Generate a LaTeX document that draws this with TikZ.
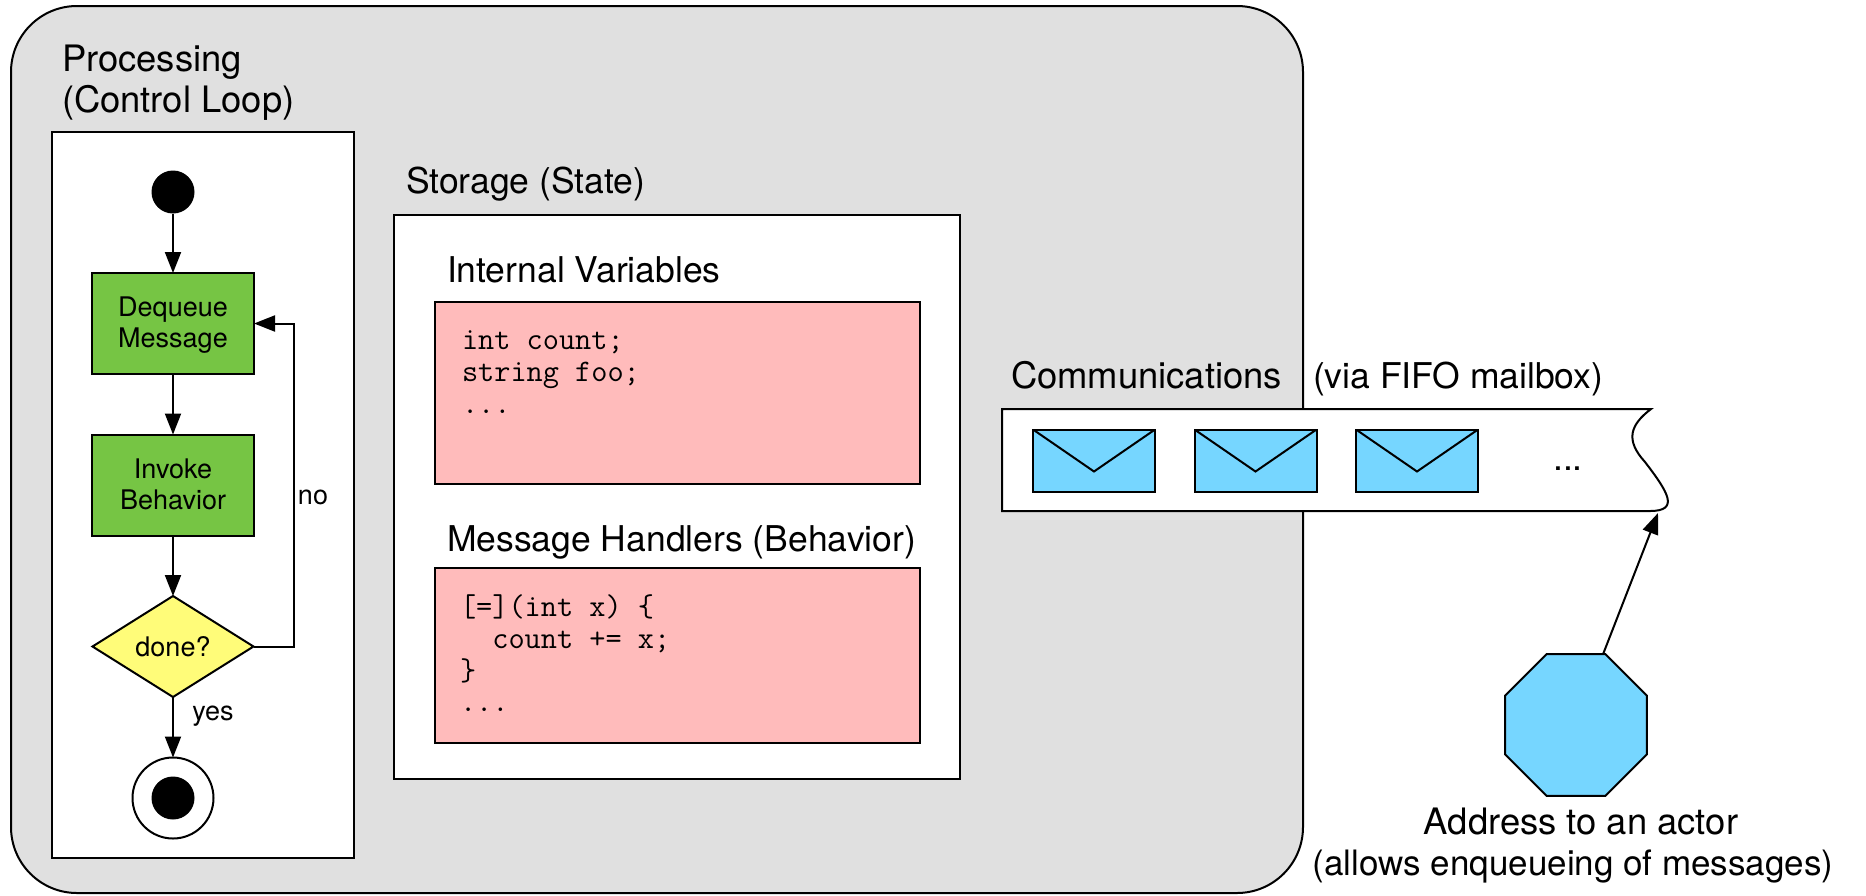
\documentclass[tikz,border=0pt]{standalone}
\usepackage{fontspec}
\setmainfont{TeX Gyre Heros}
\usetikzlibrary{shapes.geometric,arrows.meta}
\definecolor{panelgray}{HTML}{E0E0E0}
\definecolor{stepgreen}{HTML}{76C544}
\definecolor{banana}{HTML}{FFFC79}
\definecolor{codered}{HTML}{FFBBBB}
\definecolor{sky}{HTML}{76D6FF}
\newcommand{\stepstrut}{\rule[-5pt]{0pt}{28pt}}
\tikzset{
  x=1pt,y=-1pt,
  every node/.style={inner sep=0pt,outer sep=0pt},
  line/.style={line width=2pt,draw=black},
  box/.style={line,rectangle,anchor=north west},
  stepbox/.style={line,rectangle,fill=stepgreen,minimum width=162pt,minimum height=101pt,align=center,smalltext},
  codebox/.style={box,fill=codered,minimum width=485pt},
  envelope/.style={line,rectangle,fill=sky,minimum width=122pt,minimum height=62pt,
    path picture={\draw[line] (path picture bounding box.north west) -- ([yshift=-42pt]path picture bounding box.north) -- (path picture bounding box.north east);}},
  flow/.style={line,-{Triangle[length=21pt,width=16pt]}},
  bigtext/.style={font=\fontsize{35.5}{40}\selectfont,anchor=base west},
  widetext/.style={font=\fontsize{36.4}{40}\selectfont,anchor=base west},
  smalltext/.style={font=\fontsize{27}{31}\selectfont},
  codetext/.style={font=\fontsize{31.4}{31.6}\selectfont\ttfamily,anchor=north west,align=left},
  dot/.style={circle,fill=black,draw=none,minimum size=43pt},
}
\begin{document}
\begin{tikzpicture}
\useasboundingbox (0,0) rectangle (1866,895);
% actor body
\node[line,rectangle,rounded corners=66pt,fill=panelgray,minimum width=1292pt,minimum height=887pt] (actor) at (657,449.5) {};
% processing
\node[widetext] (proc1) at (62,71) {Processing};
\node[widetext] (proc2) at (62,112) {(Control Loop)};
\node[box,fill=white,minimum width=302pt,minimum height=726pt] (procbox) at (52,132) {};
\node[dot] (start) at (173,192) {};
\node[stepbox] (deq) at (173,323.5) {\stepstrut Dequeue\\\stepstrut Message};
\node[stepbox] (inv) at (173,485) {\stepstrut Invoke\\\stepstrut Behavior};
\node[line,diamond,aspect=1.6,fill=banana,minimum width=161pt,minimum height=101pt,smalltext] (done) at (173,646.5) {done?};
\node[line,circle,fill=white,minimum size=81pt] (endo) at (173,798) {};
\node[dot] (endi) at (173,798) {};
\coordinate (loop) at (294,646.5);
\draw[flow] (start) -- (deq);
\draw[flow] (deq) -- (inv);
\draw[flow] (inv) -- (done);
\draw[flow] (done) -- (endo);
\draw[flow] (done.east) -- (loop) |- (deq.east);
\node[smalltext,anchor=base] (no) at (313,504) {no};
\node[smalltext,anchor=base] (yes) at (213,720) {yes};
% storage
\node[bigtext] (stor) at (406,193) {Storage (State)};
\node[box,fill=white,minimum width=566pt,minimum height=564pt] (storbox) at (394,215) {};
\node[bigtext] (ivar) at (447,282) {Internal Variables};
\node[codebox,minimum height=182pt] (code1) at (435,302) {};
\node[codetext] (code1t) at (462,331) {int count;\\string foo;\\...};
\node[bigtext] (mh) at (447,551) {Message Handlers (Behavior)};
\node[codebox,minimum height=175pt] (code2) at (435,568) {};
\node[codetext] (code2t) at (460,595) {[=](int x) \{\\\ \ count += x;\\\}\\...};
% communications
\node[widetext] (comm) at (1011,388) {Communications};
\node[bigtext] (fifo) at (1313,388) {(via FIFO mailbox)};
\draw[line,fill=white] (1002,409) -- (1651,409)
  .. controls (1630,425) and (1625,440) .. (1645,462)
  .. controls (1668,492) and (1680,511) .. (1650,511) -- (1002,511) -- cycle;
\coordinate (mailtip) at (1658,513);
\node[envelope] (env1) at (1094,460.5) {};
\node[envelope] (env2) at (1255.5,460.5) {};
\node[envelope] (env3) at (1417,460.5) {};
\node[bigtext,anchor=base] (more) at (1568,470) {...};
% address
\node[line,regular polygon,regular polygon sides=8,fill=sky,minimum size=153.5pt] (addr) at (1576,725) {};
\draw[flow] ([xshift=-3pt]addr.67.5) -- (mailtip);
\node[widetext,anchor=base] (a1) at (1581,834) {Address to an actor};
\node[font=\fontsize{35}{40}\selectfont,anchor=base] (a2) at (1573,875) {(allows enqueueing of messages)};
\end{tikzpicture}
\end{document}
